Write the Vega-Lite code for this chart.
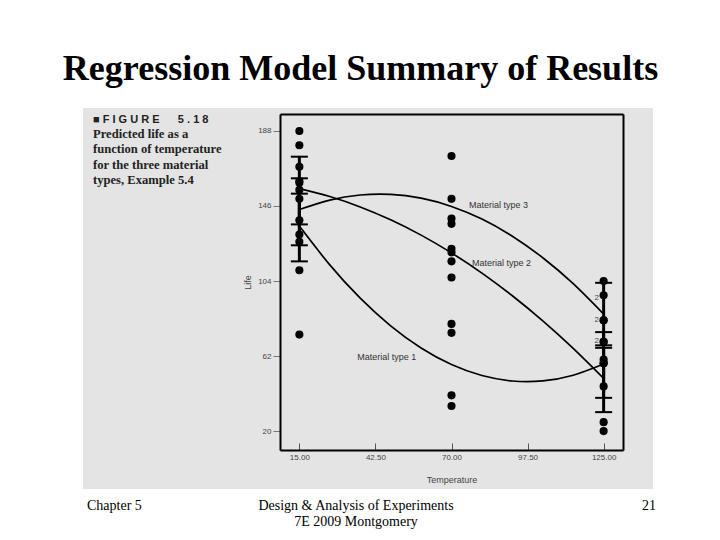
{
  "$schema": "https://vega.github.io/schema/vega-lite/v6.json",
  "background": "white",
  "padding": {"left": 62, "right": 63, "top": 51, "bottom": 0},
  "title": {
    "text": "Regression Model Summary of Results",
    "font": "Liberation Serif", "fontSize": 36, "fontWeight": "bold", "color": "black",
    "anchor": "middle", "dx": -9, "offset": 20
  },
  "spacing": 0,
  "datasets": {
    "obs": [
      {"material": "1", "temp": 15, "life": 130}, {"material": "1", "temp": 15, "life": 155},
      {"material": "1", "temp": 15, "life": 74}, {"material": "1", "temp": 15, "life": 180},
      {"material": "1", "temp": 70, "life": 34}, {"material": "1", "temp": 70, "life": 40},
      {"material": "1", "temp": 70, "life": 80}, {"material": "1", "temp": 70, "life": 75},
      {"material": "1", "temp": 125, "life": 20}, {"material": "1", "temp": 125, "life": 70},
      {"material": "1", "temp": 125, "life": 82}, {"material": "1", "temp": 125, "life": 58},
      {"material": "2", "temp": 15, "life": 150}, {"material": "2", "temp": 15, "life": 188},
      {"material": "2", "temp": 15, "life": 159}, {"material": "2", "temp": 15, "life": 126},
      {"material": "2", "temp": 70, "life": 136}, {"material": "2", "temp": 70, "life": 122},
      {"material": "2", "temp": 70, "life": 106}, {"material": "2", "temp": 70, "life": 115},
      {"material": "2", "temp": 125, "life": 25}, {"material": "2", "temp": 125, "life": 70},
      {"material": "2", "temp": 125, "life": 58}, {"material": "2", "temp": 125, "life": 45},
      {"material": "3", "temp": 15, "life": 138}, {"material": "3", "temp": 15, "life": 110},
      {"material": "3", "temp": 15, "life": 168}, {"material": "3", "temp": 15, "life": 160},
      {"material": "3", "temp": 70, "life": 174}, {"material": "3", "temp": 70, "life": 120},
      {"material": "3", "temp": 70, "life": 150}, {"material": "3", "temp": 70, "life": 139},
      {"material": "3", "temp": 125, "life": 96}, {"material": "3", "temp": 125, "life": 82},
      {"material": "3", "temp": 125, "life": 60}, {"material": "3", "temp": 125, "life": 104}
    ],
    "curves": [
      {"material": "1", "temp": 15, "life": 134.75}, {"material": "1", "temp": 26, "life": 113.03},
      {"material": "1", "temp": 37, "life": 94.42}, {"material": "1", "temp": 48, "life": 78.92},
      {"material": "1", "temp": 59, "life": 66.53}, {"material": "1", "temp": 70, "life": 57.25},
      {"material": "1", "temp": 81, "life": 51.08}, {"material": "1", "temp": 92, "life": 48.02},
      {"material": "1", "temp": 103, "life": 48.07}, {"material": "1", "temp": 114, "life": 51.23},
      {"material": "1", "temp": 125, "life": 57.5},
      {"material": "2", "temp": 15, "life": 155.75}, {"material": "2", "temp": 26, "life": 151.29},
      {"material": "2", "temp": 37, "life": 145.46}, {"material": "2", "temp": 48, "life": 138.26},
      {"material": "2", "temp": 59, "life": 129.69}, {"material": "2", "temp": 70, "life": 119.75},
      {"material": "2", "temp": 81, "life": 108.44}, {"material": "2", "temp": 92, "life": 95.76},
      {"material": "2", "temp": 103, "life": 81.71}, {"material": "2", "temp": 114, "life": 66.29},
      {"material": "2", "temp": 125, "life": 49.5},
      {"material": "3", "temp": 15, "life": 144}, {"material": "3", "temp": 26, "life": 149.31},
      {"material": "3", "temp": 37, "life": 152.14}, {"material": "3", "temp": 48, "life": 152.49},
      {"material": "3", "temp": 59, "life": 150.36}, {"material": "3", "temp": 70, "life": 145.75},
      {"material": "3", "temp": 81, "life": 138.66}, {"material": "3", "temp": 92, "life": 129.09},
      {"material": "3", "temp": 103, "life": 117.04}, {"material": "3", "temp": 114, "life": 102.51},
      {"material": "3", "temp": 125, "life": 85.5}
    ],
    "intervals": [
      {"material": "1", "temp": 15, "lower": 115.0, "upper": 152.9},
      {"material": "2", "temp": 15, "lower": 135.7, "upper": 173.6},
      {"material": "3", "temp": 15, "lower": 124.0, "upper": 161.5},
      {"material": "1", "temp": 125, "lower": 38.6, "upper": 75.4},
      {"material": "2", "temp": 125, "lower": 30.6, "upper": 66.6},
      {"material": "3", "temp": 125, "lower": 68.0, "upper": 103.0}
    ],
    "curveLabels": [
      {"label": "Material type 3", "temp": 76.3, "life": 146.5},
      {"label": "Material type 2", "temp": 77.4, "life": 114.2},
      {"label": "Material type 1", "temp": 35.9, "life": 61.4}
    ],
    "counts": [
      {"temp": 125, "life": 82, "n": "2"},
      {"temp": 125, "life": 70, "n": "2"},
      {"temp": 125, "life": 58, "n": "2"}
    ],
    "footer": [
      {"slot": "left", "text": "Chapter 5"},
      {"slot": "mid", "text": "Design & Analysis of Experiments\n7E 2009 Montgomery"},
      {"slot": "right", "text": "21"}
    ]
  },
  "vconcat": [
    {
      "width": 570,
      "height": 381,
      "view": {"fill": "#e4e4e4", "stroke": null},
      "title": {
        "text": "■\u00a0F\u00a0I\u00a0G\u00a0U\u00a0R\u00a0E\u00a0\u00a0\u00a0\u00a0\u00a0\u00a05\u00a0.\u00a01\u00a08",
        "subtitle": ["Predicted life as a", "function of temperature", "for the three material", "types, Example 5.4"],
        "anchor": "start", "frame": "group", "orient": "top", "offset": -79, "dx": 10,
        "font": "Liberation Sans", "fontSize": 11, "fontWeight": "bold", "color": "#222",
        "subtitleFont": "Liberation Serif", "subtitleFontSize": 12.6, "subtitleFontWeight": "bold",
        "subtitleColor": "#222", "subtitleLineHeight": 15.5, "subtitlePadding": 3
      },
      "resolve": {"axis": {"x": "independent", "y": "independent"}},
      "layer": [
        {
          "data": {"name": "curves"},
          "mark": {"type": "line", "interpolate": "natural", "color": "black", "strokeWidth": 1.7},
          "encoding": {
            "x": {
              "field": "temp", "type": "quantitative",
              "scale": {"domain": [8, 132], "range": [197, 540], "nice": false, "zero": false},
              "axis": {"orient": "top", "offset": -6, "labels": false, "ticks": false, "title": null,
                       "domainColor": "black", "domainWidth": 2, "grid": false}
            },
            "y": {
              "field": "life", "type": "quantitative",
              "scale": {"domain": [9.4, 197.5], "range": [342, 6], "nice": false, "zero": false},
              "axis": {"orient": "right", "offset": -30, "labels": false, "ticks": false, "title": null,
                       "domainColor": "black", "domainWidth": 2, "grid": false}
            },
            "detail": {"field": "material"}
          }
        },
        {
          "data": {"name": "intervals"},
          "mark": {"type": "rule", "color": "black", "strokeWidth": 3},
          "encoding": {
            "x": {"field": "temp", "type": "quantitative", "axis": null},
            "y": {"field": "lower", "type": "quantitative", "axis": null},
            "y2": {"field": "upper"}
          }
        },
        {
          "data": {"name": "intervals"},
          "transform": [{"fold": ["lower", "upper"], "as": ["bound", "value"]}],
          "mark": {"type": "tick", "orient": "horizontal", "color": "black", "size": 17, "thickness": 2, "opacity": 1},
          "encoding": {
            "x": {"field": "temp", "type": "quantitative", "axis": null},
            "y": {"field": "value", "type": "quantitative", "axis": null}
          }
        },
        {
          "data": {"name": "obs"},
          "mark": {"type": "circle", "size": 66, "color": "black", "opacity": 1},
          "encoding": {
            "x": {
              "field": "temp", "type": "quantitative",
              "axis": {"orient": "bottom", "offset": -39, "values": [15, 42.5, 70, 97.5, 125], "format": ".2f",
                       "labelFont": "Liberation Sans", "labelFontSize": 8, "labelColor": "#444",
                       "tickColor": "#555", "tickSize": -7, "labelPadding": 10,
                       "domainColor": "black", "domainWidth": 2, "grid": false,
                       "title": "Temperature", "titleFont": "Liberation Sans", "titleFontSize": 9,
                       "titleFontWeight": "normal", "titleColor": "#444", "titlePadding": 14}
            },
            "y": {
              "field": "life", "type": "quantitative",
              "axis": {"orient": "left", "offset": -197, "values": [20, 62, 104, 146, 188],
                       "labelFont": "Liberation Sans", "labelFontSize": 8, "labelColor": "#444",
                       "tickColor": "#777", "tickSize": 7, "labelPadding": 2,
                       "domainColor": "black", "domainWidth": 2, "grid": false,
                       "title": "Life", "titleFont": "Liberation Sans", "titleFontSize": 9,
                       "titleFontWeight": "normal", "titleColor": "#444", "titlePadding": 5}
            }
          }
        },
        {
          "data": {"name": "curveLabels"},
          "mark": {"type": "text", "align": "left", "baseline": "middle", "font": "Liberation Sans", "fontSize": 9, "color": "#333"},
          "encoding": {
            "x": {"field": "temp", "type": "quantitative", "axis": null},
            "y": {"field": "life", "type": "quantitative", "axis": null},
            "text": {"field": "label"}
          }
        },
        {
          "data": {"name": "counts"},
          "mark": {"type": "text", "align": "center", "baseline": "middle", "dx": -7, "dy": -22, "font": "Liberation Sans", "fontSize": 8, "color": "#444"},
          "encoding": {
            "x": {"field": "temp", "type": "quantitative", "axis": null},
            "y": {"field": "life", "type": "quantitative", "axis": null},
            "text": {"field": "n"}
          }
        }
      ]
    },
    {
      "width": 570,
      "height": 20,
      "data": {"name": "footer"},
      "view": {"stroke": null},
      "encoding": {
        "x": {"field": "slot", "type": "ordinal", "scale": {"type": "point", "domain": ["left", "mid", "right"], "padding": 0}, "axis": null},
        "text": {"field": "text"}
      },
      "layer": [
        {
          "transform": [{"filter": {"field": "slot", "equal": "left"}}],
          "mark": {"type": "text", "align": "left", "baseline": "top", "dx": 4, "font": "Liberation Serif", "fontSize": 14, "color": "black"}
        },
        {
          "transform": [{"filter": {"field": "slot", "equal": "mid"}}],
          "mark": {"type": "text", "align": "center", "baseline": "top", "dx": -12, "font": "Liberation Serif", "fontSize": 14, "lineHeight": 16, "lineBreak": "\n", "color": "black"}
        },
        {
          "transform": [{"filter": {"field": "slot", "equal": "right"}}],
          "mark": {"type": "text", "align": "right", "baseline": "top", "dx": 3, "font": "Liberation Serif", "fontSize": 14, "color": "black"}
        }
      ]
    }
  ],
  "config": {"view": {"stroke": null}, "axis": {"grid": false}}
}
